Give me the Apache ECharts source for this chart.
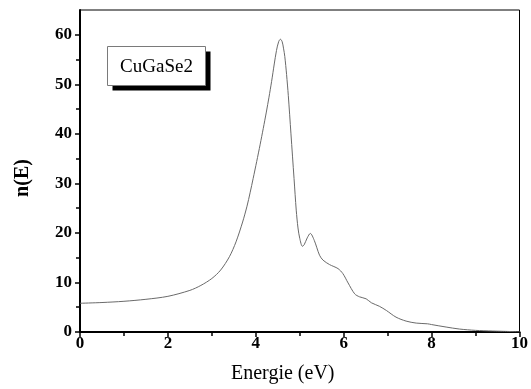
<!DOCTYPE html>
<html>
<head>
<meta charset="utf-8">
<script src="https://cdn.jsdelivr.net/npm/echarts@6/dist/echarts.min.js"></script>
<style>
  html, body { margin: 0; padding: 0; background: #fff; }
  #chart { width: 531px; height: 389px; }
</style>
</head>
<body>
<div id="chart"></div>
<script>
// Refractive index n(E) of CuGaSe2 versus photon energy
const energy = [0, 0.5, 1.0, 1.5, 2.0, 2.5, 2.75, 3.0, 3.2, 3.4, 3.55, 3.7, 3.8, 3.87, 3.94, 4.02, 4.1, 4.17, 4.24, 4.3, 4.36, 4.42, 4.47, 4.52, 4.56, 4.6, 4.63, 4.66, 4.7, 4.74, 4.8, 4.87, 4.92, 4.96, 5.0, 5.06, 5.1, 5.17, 5.24, 5.33, 5.45, 5.53, 5.68, 5.87, 5.98, 6.1, 6.25, 6.36, 6.51, 6.63, 6.81, 6.97, 7.19, 7.42, 7.65, 7.91, 8.0, 8.33, 8.63, 9.0, 9.38, 10.0];
const nValues = [5.8, 5.95, 6.2, 6.6, 7.2, 8.4, 9.4, 10.8, 12.5, 15.2, 18.2, 22.2, 25.4, 28.1, 31, 34.4, 37.9, 41.1, 44.4, 47.4, 50.6, 54.1, 56.8, 58.6, 59.1, 58.6, 57.3, 55.6, 52, 47.7, 40, 31, 24.6, 21, 18.9, 17.3, 17.6, 19.0, 19.9, 18.5, 15.5, 14.5, 13.6, 12.8, 11.8, 9.9, 7.7, 7.1, 6.7, 5.9, 5.2, 4.35, 3.0, 2.2, 1.8, 1.65, 1.5, 1.0, 0.6, 0.33, 0.2, 0.05];
const yMajorTicks = [0, 10, 20, 30, 40, 50, 60];
const yMinorTicks = [5, 15, 25, 35, 45, 55];
const sampleName = 'CuGaSe2';

const points = energy.map((e, i) => [e, nValues[i]]);

const serif = '"Liberation Serif", "Times New Roman", serif';
const chart = echarts.init(document.getElementById('chart'), null, { renderer: 'canvas' });

chart.setOption({
  backgroundColor: '#fff',
  animation: false,
  grid: {
    left: 80, top: 10, right: 10, bottom: 55,
    show: true, borderColor: '#000', borderWidth: 1, backgroundColor: 'transparent'
  },
  xAxis: {
    type: 'value', min: 0, max: 10, interval: 2,
    name: 'Energie (eV)', nameLocation: 'middle', nameGap: 32,
    nameTextStyle: { fontFamily: serif, fontSize: 20, color: '#000', padding: [0, 34, 0, 0] },
    axisLine: { show: true, onZero: false, lineStyle: { color: '#000', width: 2 } },
    axisTick: { show: true, inside: false, length: 5, lineStyle: { color: '#000', width: 1.5 } },
    minorTick: { show: true, splitNumber: 2, length: 4, lineStyle: { color: '#000', width: 1.5 } },
    axisLabel: { margin: 3, fontFamily: serif, fontWeight: 'bold', fontSize: 17, color: '#000' },
    splitLine: { show: false }
  },
  yAxis: [{
    type: 'value', min: 0, max: 65, interval: 10,
    name: 'n(E)', nameLocation: 'middle', nameGap: 47, nameRotate: 90,
    nameTextStyle: { fontFamily: serif, fontWeight: 'bold', fontSize: 20, color: '#000', padding: [0, 14, 0, 0] },
    axisLine: { show: true, onZero: false, lineStyle: { color: '#000', width: 2 } },
    axisTick: { show: true, inside: false, length: 5, customValues: yMajorTicks, lineStyle: { color: '#000', width: 1.5 } },
    axisLabel: { margin: 8, customValues: yMajorTicks, fontFamily: serif, fontWeight: 'bold', fontSize: 17, color: '#000' },
    splitLine: { show: false }
  }, {
    // minor ticks on the left axis
    type: 'value', min: 0, max: 65, position: 'left',
    axisLine: { show: false },
    axisTick: { show: true, inside: false, length: 4, customValues: yMinorTicks, lineStyle: { color: '#000', width: 1.5 } },
    axisLabel: { show: false },
    splitLine: { show: false }
  }],
  series: [{
    type: 'line',
    data: points,
    smooth: 0.3,
    showSymbol: false,
    lineStyle: { color: '#6a6a6a', width: 1 },
    z: 3
  }],
  graphic: [{
    type: 'group',
    left: 107, top: 46,
    children: [
      { type: 'rect', shape: { x: 5, y: 5, width: 98, height: 39 }, style: { fill: '#000' } },
      { type: 'rect', shape: { x: 0, y: 0, width: 98, height: 39 }, style: { fill: '#fff', stroke: '#7a7a7a', lineWidth: 1 } },
      { type: 'text', x: 49, y: 21, style: { text: sampleName, fontFamily: serif, fontSize: 19, fill: '#000', align: 'center', verticalAlign: 'middle' } }
    ]
  }]
});
</script>
</body>
</html>
